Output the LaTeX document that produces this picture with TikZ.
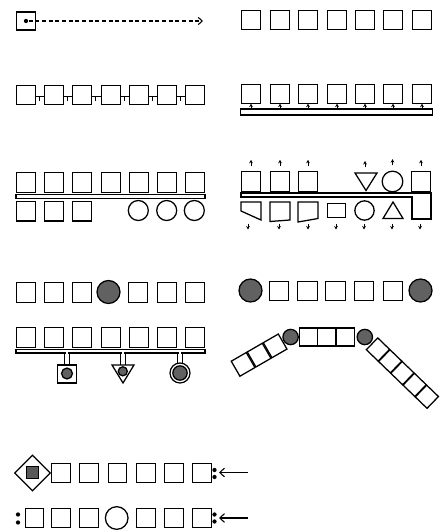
\documentclass[tikz,border=0pt]{standalone}
\usetikzlibrary{shapes.geometric,arrows.meta}
\begin{document}
\begin{tikzpicture}[x=0.75pt,y=-0.75pt,line width=0.95pt,
  sqr/.style={draw,minimum size=14.5pt,inner sep=0pt,outer sep=0pt},
  ring/.style={draw,circle,minimum size=#1,inner sep=0pt,outer sep=0pt},
  ring/.default=15pt,
  ball/.style={draw,circle,fill=black!62,minimum size=#1,inner sep=0pt,outer sep=0pt},
  ball/.default=17pt,
  busbar/.style={draw,fill=white,inner sep=0pt,outer sep=0pt},
  tinyarr/.style={-{Stealth[length=2.6pt,width=2.8pt]},line width=0.7pt},
  dotc/.style={circle,fill=black,inner sep=0pt,minimum size=3.2pt},
  barb/.style={-{Straight Barb[length=3.5pt,width=6.5pt]}},
]
\useasboundingbox (0,0) rectangle (439,531);

% ---------- panel 1 ----------
\node[sqr,minimum height=13.5pt] (a1) at (26,21) {};
\node[dotc] (a1dot) at (a1.center) {};
\coordinate (a1end) at (203,21);
\draw[line width=0.8pt,dash pattern=on 3pt off 2pt,-{Straight Barb[length=3pt,width=5.5pt]}] (a1dot) -- (a1end);

% ---------- panel 2 ----------
\foreach \x [count=\i] in {251,280,308,337,365,393,422}
  \node[sqr] (b\i) at (\x,20) {};

% ---------- panel 3 ----------
\foreach \x [count=\i] in {26,54,82,111,139,167,195}
  \node[sqr] (c\i) at (\x,95) {};
\foreach \i [evaluate=\i as \j using int(\i+1)] in {1,...,6} {
  \draw[line width=0.8pt] ([yshift=-1.2pt]c\i.east) -- ([yshift=-1.2pt]c\j.west) coordinate[pos=0.4] (cm\i);
  \draw[line width=0.8pt] ([yshift=0.6pt]cm\i) -- ([yshift=-3pt]cm\i);
}

% ---------- panel 4 ----------
\foreach \x [count=\i] in {251,280,308,337,365,393,422}
  \node[sqr] (d\i) at (\x,94) {};
\node[busbar,minimum width=143.5pt,minimum height=4.5pt] (dbar) at (336.5,112) {};
\foreach \i in {1,...,7}
  \draw[tinyarr] (dbar.north -| d\i) -- (d\i.south);

% ---------- panel 5 ----------
\foreach \x [count=\i] in {26,54,82,111,139,167,195}
  \node[sqr] (e\i) at (\x,182.5) {};
\node[busbar,minimum width=141.75pt,minimum height=2.6pt] (ebar) at (110.5,196.5) {};
\foreach \x [count=\i] in {26,54,82}
  \node[sqr] (f\i) at (\x,211.2) {};
\foreach \x [count=\i] in {138.3,166.7,194.3}
  \node[ring] (g\i) at (\x,210.5) {};

% ---------- panel 6 ----------
\node[sqr] (h1) at (251,181.5) {};
\node[sqr] (h2) at (280,181.5) {};
\node[sqr] (h3) at (308,181.5) {};
\draw (355,173) -- (377,173) -- (366,190.5) -- cycle;
\coordinate (h4) at (365,173);
\node[ring=15.5pt] (h5) at (392.5,181.5) {};
\node[sqr] (h6) at (421,181.5) {};
\draw[tinyarr] ([yshift=4.5pt]h1.north) -- ([yshift=9pt]h1.north);
\draw[tinyarr] ([yshift=4.5pt]h2.north) -- ([yshift=9pt]h2.north);
\draw[tinyarr] ([yshift=4.5pt]h3.north) -- ([yshift=9pt]h3.north);
\draw[tinyarr] ([yshift=4.5pt]h4) -- ([yshift=9pt]h4);
\draw[tinyarr] ([yshift=4.5pt]h5.north) -- ([yshift=9pt]h5.north);
\draw[tinyarr] ([yshift=4.5pt]h6.north) -- ([yshift=9pt]h6.north);
% L-shaped bus
\draw (241,193) -- (431,193) -- (431,219) -- (412,219) -- (412,197) -- (241,197) -- cycle;
% lower shapes
\draw (241,202) -- (261,202) -- (261,220) -- (241,211) -- cycle;
\draw (270,202) -- (290,202) -- (290,220) -- (270,221.5) -- cycle;
\draw (298,202) -- (318,202) -- (318,218.5) -- (298,222) -- cycle;
\node[draw,minimum width=14pt,minimum height=11pt,inner sep=0pt] (k4s) at (336.5,210.5) {};
\node[ring=14.5pt] (k5s) at (364.5,210.5) {};
\draw (383,218.5) -- (403,218.5) -- (393,202) -- cycle;
\foreach \x [count=\i] in {248,279,308,336,364,392,420} {
  \coordinate (ka\i) at (\x,223.5);
  \coordinate (kb\i) at (\x,229.5);
  \draw[tinyarr] (ka\i) -- (kb\i);
}

% ---------- panel 7 ----------
\foreach \x [count=\i] in {26,54,82}
  \node[sqr] (m\i) at (\x,292.5) {};
\node[ball=17.25pt] (m4) at (108.5,292) {};
\foreach \x [count=\i from 5] in {138,167,195}
  \node[sqr] (m\i) at (\x,292.5) {};

\foreach \x [count=\i] in {26,54,82,111,139,167,195}
  \node[sqr] (n\i) at (\x,337.5) {};
\node[busbar,minimum width=141.75pt,minimum height=2.8pt] (nbar) at (110.5,351) {};
% hanging items
\node[draw,minimum width=14pt,minimum height=13.5pt,inner sep=0pt] (o1) at (67,374) {};
\node[ball=8.2pt] (o1b) at (67,373.5) {};
\draw (112,365) -- (134,365) -- (123,383) -- cycle;
\coordinate (o2) at (123,365);
\node[ball=6.8pt] (o2b) at (122.8,371.3) {};
\node[ring=15pt] (o3) at (180,373) {};
\node[ball=10.8pt] (o3b) at (180,373) {};
\coordinate (nb1) at (nbar.south -| o1.north);
\coordinate (nb2) at (nbar.south -| o2);
\coordinate (nb3) at (nbar.south -| o3.north);
\foreach \n/\t in {nb1/o1.north,nb2/o2,nb3/o3.north} {
  \fill[white] ([xshift=-1.05pt,yshift=1pt]\n) rectangle ([xshift=1.05pt,yshift=-1pt]\n);
  \draw[line width=0.8pt] ([xshift=-1.6pt,yshift=0.5pt]\n) -- ([xshift=-1.6pt]\t);
  \draw[line width=0.8pt] ([xshift=1.6pt,yshift=0.5pt]\n) -- ([xshift=1.6pt]\t);
}

% ---------- panel 8 ----------
\node[ball=17.25pt] (q1) at (250.5,290.5) {};
\foreach \x [count=\i from 2] in {279,307.5,335.5,364,393}
  \node[sqr] (q\i) at (\x,291) {};
\node[ball=17.25pt] (q7) at (420.5,290.5) {};

\node[ball=11.5pt] (r1) at (290.6,337) {};
\node[sqr,minimum size=13.5pt] (r2) at (308.2,337) {};
\node[sqr,minimum size=13.5pt] (r3) at (326.8,337) {};
\node[sqr,minimum size=13.5pt] (r4) at (345.6,337) {};
\node[ball=11.5pt] (r5) at (364.8,337) {};
% left arm
\node[sqr,minimum size=13pt,rotate=30] (l1) at (275.13,345.88) {};
\node[sqr,minimum size=13pt,rotate=30] (l2) at (259.11,355.13) {};
\node[sqr,minimum size=13pt,rotate=30] (l3) at (243.09,364.38) {};
% right arm
\node[sqr,minimum size=12.3pt,rotate=-44] (w1) at (377.95,349.50) {};
\node[sqr,minimum size=12.3pt,rotate=-44] (w2) at (390.18,361.31) {};
\node[sqr,minimum size=12.3pt,rotate=-44] (w3) at (402.40,373.12) {};
\node[sqr,minimum size=12.3pt,rotate=-44] (w4) at (414.63,384.93) {};
\node[sqr,minimum size=12.3pt,rotate=-44] (w5) at (426.86,396.74) {};

% ---------- panel 9 ----------
\node[draw,diamond,minimum width=27pt,minimum height=27pt,inner sep=0pt] (s0) at (32.5,473) {};
\node[draw,fill=black!65,minimum size=9.5pt,inner sep=0pt] (s0in) at (32.5,472.5) {};
\foreach \x [count=\i] in {61,89,117.5,146,174,202}
  \node[sqr,minimum size=14pt] (s\i) at (\x,473) {};
\node[dotc] (t1a) at (214.5,470) {};
\node[dotc] (t1b) at (214.5,477) {};
\coordinate (t1start) at (248,472.5);
\coordinate (t1tip) at (219,472.5);
\draw[barb,line width=0.8pt] (t1start) -- (t1tip);

\node[dotc] (t2a) at (18,514.5) {};
\node[dotc] (t2b) at (18,522.5) {};
\node[sqr,minimum width=13pt,minimum height=14pt] (u1) at (34.5,518) {};
\node[sqr,minimum size=14pt] (u2) at (61,518) {};
\node[sqr,minimum size=14pt] (u3) at (89,518) {};
\node[ring=17pt] (u4) at (116.7,518) {};
\node[sqr,minimum size=14pt] (u5) at (146,518) {};
\node[sqr,minimum size=14pt] (u6) at (174,518) {};
\node[sqr,minimum size=14pt] (u7) at (202,518) {};
\node[dotc] (t3a) at (214.5,514.5) {};
\node[dotc] (t3b) at (214.5,521.5) {};
\coordinate (t3start) at (248,518);
\coordinate (t3tip) at (219,518);
\draw[barb,line width=0.8pt] (t3start) -- (t3tip);
\end{tikzpicture}
\end{document}
